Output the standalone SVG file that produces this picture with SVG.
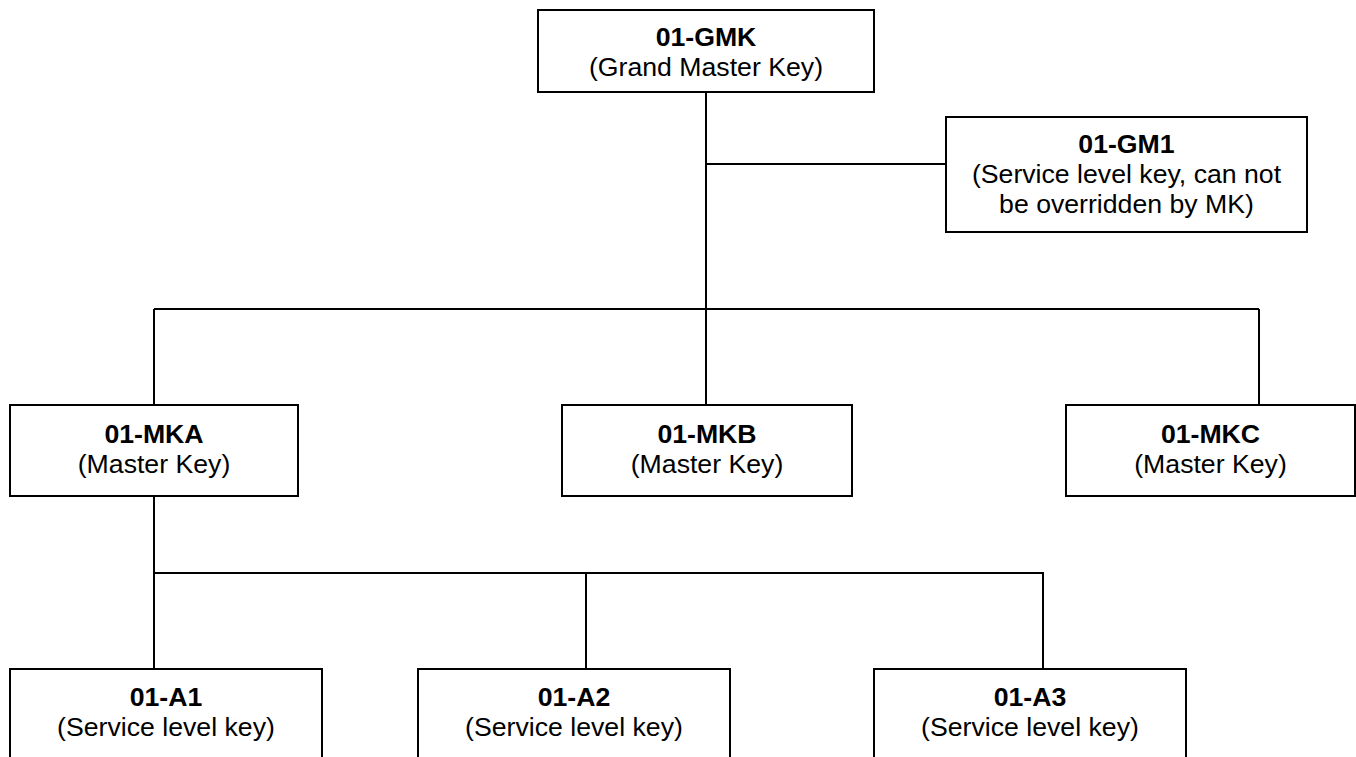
<svg xmlns="http://www.w3.org/2000/svg" width="1356" height="757" viewBox="0 0 1356 757">
<style>
.box{fill:#fff;stroke:#000;stroke-width:2}
.ln{fill:none;stroke:#000;stroke-width:2}
text{font-family:"Liberation Sans",Arial,sans-serif;font-size:26.67px;text-anchor:middle;fill:#000}
.b{font-weight:bold}
</style>
<rect width="1356" height="757" fill="#fff"/>
<g id="connectors">
<path class="ln" d="M706 92V405M706 164H946M154 309H1259M154 309V405M1259 309V405M154 496V669M154 573H1043V669M586 573V669"/>
</g>
<g id="n-gmk"><rect class="box" x="538" y="10" width="336" height="82"/><text x="706" y="46" class="b">01-GMK</text><text x="706" y="76">(Grand Master Key)</text></g>
<g id="n-gm1"><rect class="box" x="946" y="117" width="361" height="115"/><text x="1126.5" y="153" class="b">01-GM1</text><text x="1126.5" y="183">(Service level key, can not</text><text x="1126.5" y="213">be overridden by MK)</text></g>
<g id="n-mka"><rect class="box" x="10" y="405" width="288" height="91"/><text x="154" y="443" class="b">01-MKA</text><text x="154" y="473">(Master Key)</text></g>
<g id="n-mkb"><rect class="box" x="562" y="405" width="290" height="91"/><text x="707" y="443" class="b">01-MKB</text><text x="707" y="473">(Master Key)</text></g>
<g id="n-mkc"><rect class="box" x="1066" y="405" width="289" height="91"/><text x="1210.5" y="443" class="b">01-MKC</text><text x="1210.5" y="473">(Master Key)</text></g>
<g id="n-a1"><rect class="box" x="10" y="669" width="312" height="100"/><text x="166" y="706" class="b">01-A1</text><text x="166" y="736">(Service level key)</text></g>
<g id="n-a2"><rect class="box" x="418" y="669" width="312" height="100"/><text x="574" y="706" class="b">01-A2</text><text x="574" y="736">(Service level key)</text></g>
<g id="n-a3"><rect class="box" x="874" y="669" width="312" height="100"/><text x="1030" y="706" class="b">01-A3</text><text x="1030" y="736">(Service level key)</text></g>
</svg>
